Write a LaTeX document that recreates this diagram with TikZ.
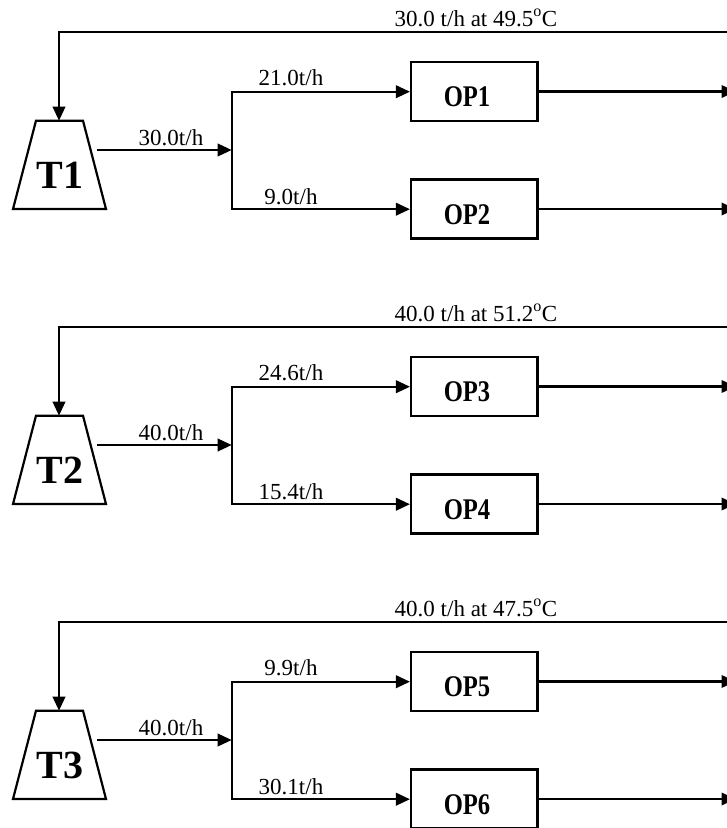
\documentclass[tikz,border=0pt]{standalone}
\usepackage{fontspec}
\setmainfont{Liberation Serif}
\usetikzlibrary{arrows.meta}
\begin{document}
\begin{tikzpicture}[x=1pt,y=-1pt,
  flow/.style={line width=2.2pt,-{Triangle[length=14pt,width=12.5pt]}},
  plain/.style={line width=2.2pt},
  lbl/.style={font=\fontsize{23}{26}\selectfont,anchor=base,inner sep=0pt},
  opbox/.style={draw,line width=2.2pt,minimum width=126.5pt,minimum height=59pt,inner sep=0pt},
  oplbl/.style={font=\fontsize{30}{30}\selectfont\bfseries,anchor=base,inner sep=0pt,xscale=0.82},
  tlbl/.style={font=\fontsize{40}{40}\selectfont\bfseries,anchor=base,inner sep=0pt},
  tank/.style={line width=2.2pt,line join=miter}]
\useasboundingbox (0,0) rectangle (727,828);
\clip (0,0) rectangle (727,828);
\foreach \main/\up/\dn/\temp/\oa/\ob [count=\i] in
  {30.0/21.0/9.0/49.5/1/2, 40.0/24.6/15.4/51.2/3/4, 40.0/9.9/30.1/47.5/5/6}{
  \begin{scope}[shift={(0,{(\i-1)*295})}]
    % tank
    \draw[tank] (13,209) -- (36,120.7) -- (83,120.7) -- (106,209) -- cycle;
    \coordinate (Ttop\i) at (59,120.7);
    \node[tlbl] (T\i) at (60,188) {T\i};
    % return line
    \coordinate (ret\i) at (727,32.3);
    \coordinate (corner\i) at (59,32.3);
    \draw[flow] (ret\i) -- (corner\i) -- (Ttop\i);
    \node[lbl] (rl\i) at (476,26) {\main{} t/h at \temp\textsuperscript{o}C};
    % main flow
    \coordinate (Tout\i) at (97,150);
    \coordinate (split\i) at (231.7,150);
    \draw[flow] (Tout\i) -- (split\i);
    \node[lbl] (ml\i) at (171,145.5) {\main t/h};
    % splitter
    \coordinate (su\i) at (231.7,91.7);
    \coordinate (sd\i) at (231.7,209.2);
    \draw[plain,line cap=rect] (su\i) -- (sd\i);
    % boxes
    \node[opbox] (OP\oa) at (474.3,91.5) {};
    \node[opbox] (OP\ob) at (474.3,209) {};
    \node[oplbl] (OPt\oa) at (467,106.7) {OP\oa};
    \node[oplbl] (OPt\ob) at (467,224.2) {OP\ob};
    \draw[flow] (su\i) -- (su\i -| OP\oa.west);
    \draw[flow] (sd\i) -- (sd\i -| OP\ob.west);
    \node[lbl] (ul\i) at (291,85.7) {\up t/h};
    \node[lbl] (dl\i) at (291,204) {\dn t/h};
    % outputs
    \coordinate (oa\i) at (735.5,91.5);
    \coordinate (ob\i) at (735.5,209);
    \draw[flow] (OP\oa.east) -- (oa\i);
    \draw[flow] (OP\ob.east) -- (ob\i);
  \end{scope}
}
\end{tikzpicture}
\end{document}
